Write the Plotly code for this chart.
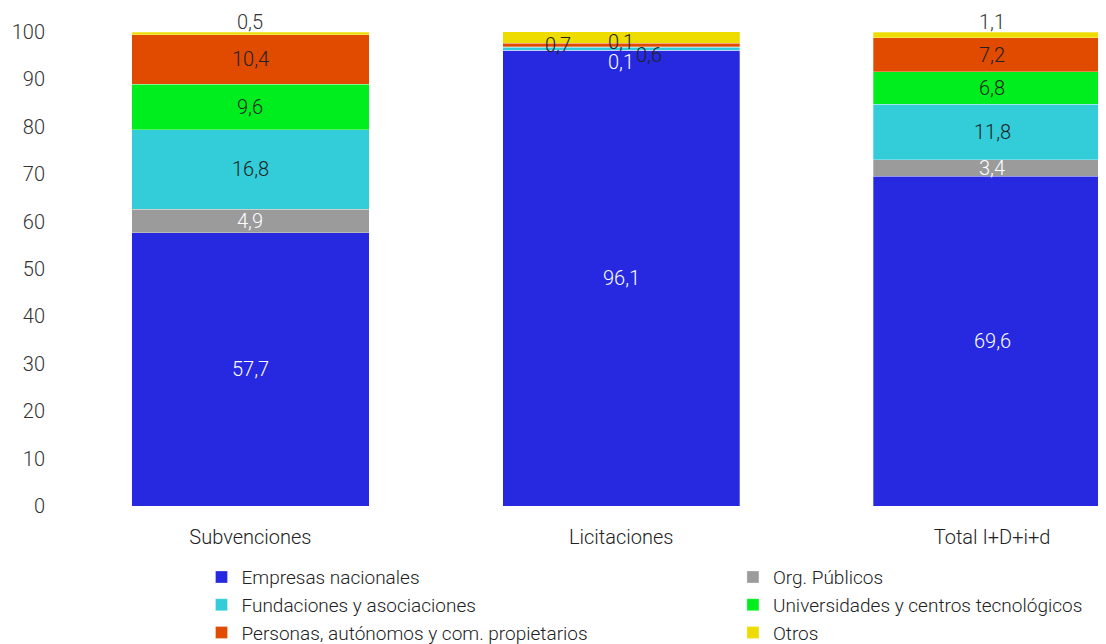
import plotly.graph_objects as go
import numpy as np

categories = ["Subvenciones", "Licitaciones", "Total I+D+i+d"]
series_names = ["Empresas nacionales", "Org. Públicos", "Fundaciones y asociaciones",
                "Universidades y centros tecnológicos", "Personas, autónomos y com. propietarios", "Otros"]
empresas = [57.7, 96.1, 69.6]
org_publicos = [4.9, 0.1, 3.4]
fundaciones = [16.8, 0.6, 11.8]
universidades = [9.6, 0.1, 6.8]
personas = [10.4, 0.7, 7.2]
otros = [0.5, 2.5, 1.1]
y_ticks = list(range(0, 101, 10))

series = [empresas, org_publicos, fundaciones, universidades, personas, otros]
colors = ["#2629E0", "#9B9B9B", "#33CCD9", "#00EE1E", "#E04B00", "#EEDC00"]
label_colors = ["white", "white", "#222222", "#222222", "#222222", "#333333"]
legend_ids = ["legend", "legend2", "legend", "legend2", "legend", "legend2"]

FAM = "Roboto"
FS = 20
def fnt(color="#333333", size=FS):
    return dict(family=FAM, size=size, color=color, weight=300)

fig = go.Figure()
for i, (name, vals, col, lg) in enumerate(zip(series_names, series, colors, legend_ids)):
    fig.add_trace(go.Bar(x=categories, y=vals, name=name, legendgroup=f"g{i}",
                         marker=dict(color=col, line=dict(width=0.6, color="rgba(255,255,255,0.5)")),
                         width=0.64, hoverinfo="skip", legend=lg))

# label offsets (pixels) for crowded segments in Licitaciones
offsets = {
    (1, 1): (0, -12),
    (1, 2): (28, -6),
    (1, 3): (0, 5),
    (1, 4): (-63, 0),
}

vals_arr = np.array(series)
cum = np.cumsum(vals_arr, axis=0)
annotations = []
for si in range(len(series)):
    for ci, cat in enumerate(categories):
        v = vals_arr[si, ci]
        top = cum[si, ci]
        mid = top - v / 2
        txt = f"{v:.1f}".replace(".", ",")
        if si == len(series) - 1:
            annotations.append(dict(x=cat, y=top, text=txt, showarrow=False, yanchor="bottom", yshift=-4,
                                    font=fnt("#333333")))
        else:
            xs, ys = offsets.get((ci, si), (0, 0))
            annotations.append(dict(x=cat, y=mid, text=txt, showarrow=False, xshift=xs, yshift=ys,
                                    font=fnt(label_colors[si])))

legend_common = dict(orientation="v", yanchor="top", xanchor="left", traceorder="normal",
                     font=fnt("#222222", 19), itemwidth=30, tracegroupgap=0, bgcolor="rgba(0,0,0,0)")

fig.update_layout(
    barmode="stack",
    width=1106, height=644,
    margin=dict(l=57, r=7, t=24, b=146, autoexpand=False),
    plot_bgcolor="white", paper_bgcolor="white",
    font=fnt(),
    annotations=annotations,
    showlegend=True,
    legend=dict(x=0.131, y=-0.11, **legend_common),
    legend2=dict(x=0.641, y=-0.11, **legend_common),
    xaxis=dict(range=[-0.5, 2.31], showgrid=False, showline=False, ticks="", ticklabelstandoff=17,
               tickfont=fnt("#222222")),
    yaxis=dict(range=[0, 100], tickvals=y_ticks, showgrid=False, zeroline=False, showline=False,
               ticks="", ticklabelstandoff=19, tickfont=fnt("#333333")),
)

fig.write_html("out.html")
